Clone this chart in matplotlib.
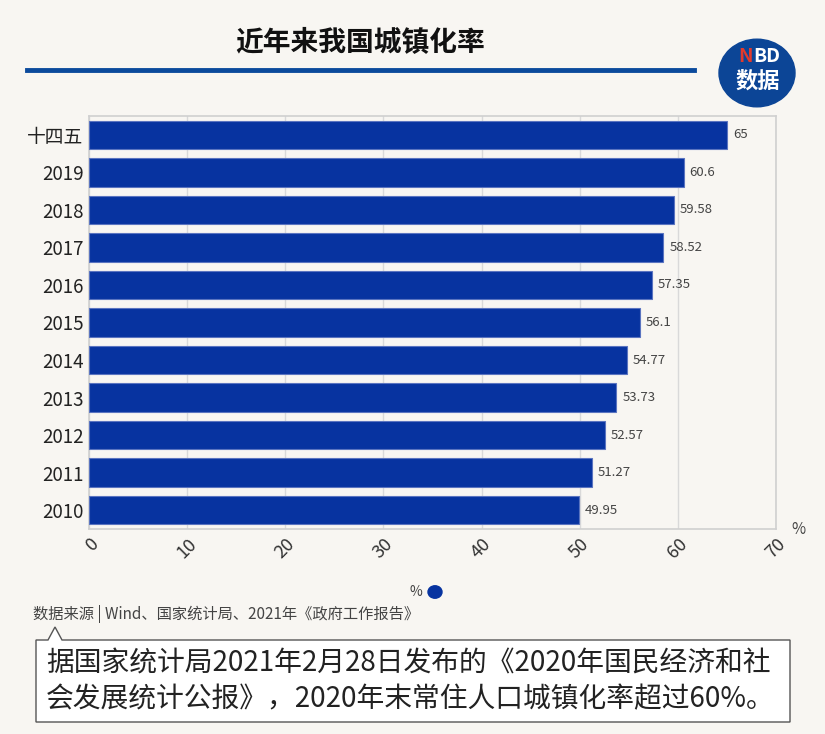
import matplotlib.pyplot as plt
from matplotlib.patches import Circle, Polygon

plt.rcParams['font.family'] = ['Noto Sans CJK SC', 'DejaVu Sans']

# data
years = ['十四五', '2019', '2018', '2017', '2016', '2015', '2014', '2013', '2012', '2011', '2010']
rates = [65, 60.6, 59.58, 58.52, 57.35, 56.1, 54.77, 53.73, 52.57, 51.27, 49.95]
xticks = [0, 10, 20, 30, 40, 50, 60, 70]

bg = '#f8f6f2'
blue = '#0733a0'

W, H = 825, 734
fig = plt.figure(figsize=(W / 100, H / 100), dpi=100, facecolor=bg)

# plot area in pixel coords
left, right, top, bottom = 89, 776, 116, 529
ax = fig.add_axes([left / W, 1 - bottom / H, (right - left) / W, (bottom - top) / H])
ax.set_facecolor(bg)

ypos = list(range(len(years)))
bars = ax.barh(ypos, rates, height=0.76, color=blue, edgecolor='#5a74c0', linewidth=0.8, zorder=3)
ax.set_ylim(len(years) - 0.5, -0.5)
ax.set_xlim(0, 70)
ax.set_yticks(ypos)
ax.set_yticklabels(years, fontsize=13.5, color='#222222')
ax.set_xticks(xticks)
ax.set_xticklabels([str(v) for v in xticks], rotation=45, ha='right', rotation_mode='anchor',
                   fontsize=13, color='#333333')
ax.tick_params(axis='both', length=0, pad=4)
ax.grid(axis='x', color='#d9d9d9', linewidth=1, zorder=0)
for s in ax.spines.values():
    s.set_color('#d0d0d0')
    s.set_linewidth(1.2)

for b, v in zip(bars, rates):
    ax.text(v + 0.6, b.get_y() + b.get_height() / 2, f'{v:g}', va='center', ha='left',
            fontsize=9.5, color='#444444')

fig.text(798 / W, 1 - 529 / H, '%', fontsize=11, color='#444444', ha='center', va='center')

# title and rule
fig.text(360 / W, 1 - 43 / H, '近年来我国城镇化率', fontsize=20, fontweight='bold',
         ha='center', va='center', color='#111111')
fig.add_artist(plt.Line2D([27 / W, 694 / W], [1 - 70 / H, 1 - 70 / H], color='#0b4a9c', linewidth=3.5))

# logo
fig.add_artist(Circle((757 / W, 1 - 73 / H), 38 / W, transform=fig.transFigure, color='#0c4596'))
fig.text(746 / W, 1 - 57 / H, 'N', fontsize=14, fontweight='bold', color='#e23a2c', ha='center', va='center')
fig.text(767 / W, 1 - 57 / H, 'BD', fontsize=14, fontweight='bold', color='white', ha='center', va='center')
fig.text(758 / W, 1 - 81 / H, '数据', fontsize=16, fontweight='bold', color='white', ha='center', va='center')

# legend
fig.text(416 / W, 1 - 592 / H, '%', fontsize=10, color='#444444', ha='center', va='center')
fig.add_artist(Circle((435 / W, 1 - 592 / H), 7 / W, transform=fig.transFigure, color=blue))

# source
fig.text(33 / W, 1 - 614 / H, '数据来源 | Wind、国家统计局、2021年《政府工作报告》', fontsize=11,
         color='#444444', ha='left', va='center')

# callout box
bx0, bx1, by0, by1 = 36, 790, 640, 722
pts = [(bx0, by0), (48, by0), (55, 627), (62, by0), (bx1, by0), (bx1, by1), (bx0, by1)]
fig.add_artist(Polygon([(x / W, 1 - y / H) for x, y in pts], closed=True, transform=fig.transFigure,
                       facecolor='white', edgecolor='#555555', linewidth=1))
fig.text(46 / W, 1 - 664 / H, '据国家统计局2021年2月28日发布的《2020年国民经济和社', fontsize=20,
         color='#222222', ha='left', va='center')
fig.text(46 / W, 1 - 699 / H, '会发展统计公报》，2020年末常住人口城镇化率超过60%。', fontsize=20,
         color='#222222', ha='left', va='center')

fig.savefig('out.png', dpi=100, facecolor=bg)
